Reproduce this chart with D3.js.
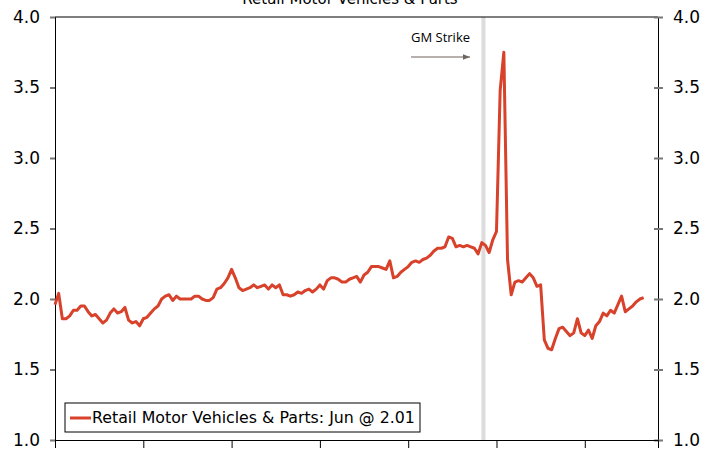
<!DOCTYPE html>
<html>
<head>
<meta charset="utf-8">
<script src="https://cdn.jsdelivr.net/npm/d3@7"></script>
<style>
  body { margin: 0; background: #fff; }
  text { font-family: "DejaVu Sans", Verdana, sans-serif; }
</style>
</head>
<body>
<div id="chart"></div>
<script>
"use strict";

// monthly ratio, first point at left axis
var ratioValues = [
  1.96, 2.04, 1.86, 1.86, 1.88, 1.92, 1.92, 1.95, 1.95, 1.91,
  1.88, 1.89, 1.86, 1.83, 1.85, 1.90, 1.93, 1.90, 1.91, 1.94,
  1.85, 1.83, 1.84, 1.81, 1.86, 1.87, 1.90, 1.93, 1.95, 2.00,
  2.02, 2.03, 1.99, 2.02, 2.00, 2.00, 2.00, 2.00, 2.02, 2.02,
  2.00, 1.99, 1.99, 2.01, 2.07, 2.08, 2.11, 2.15, 2.21, 2.15,
  2.08, 2.06, 2.07, 2.08, 2.10, 2.08, 2.09, 2.10, 2.07, 2.10,
  2.08, 2.10, 2.03, 2.03, 2.02, 2.03, 2.05, 2.04, 2.06, 2.07,
  2.05, 2.07, 2.10, 2.07, 2.13, 2.15, 2.15, 2.14, 2.12, 2.12,
  2.14, 2.15, 2.16, 2.12, 2.17, 2.19, 2.23, 2.23, 2.23, 2.22,
  2.21, 2.27, 2.15, 2.16, 2.19, 2.21, 2.23, 2.26, 2.27, 2.26,
  2.28, 2.29, 2.31, 2.34, 2.36, 2.36, 2.37, 2.44, 2.43, 2.37,
  2.38, 2.37, 2.38, 2.37, 2.36, 2.32, 2.40, 2.38, 2.33, 2.42,
  2.48, 3.48, 3.75, 2.28, 2.03, 2.12, 2.13, 2.12, 2.15, 2.18,
  2.15, 2.09, 2.10, 1.71, 1.65, 1.64, 1.72, 1.79, 1.80, 1.77,
  1.74, 1.76, 1.86, 1.76, 1.74, 1.78, 1.72, 1.81, 1.84, 1.90,
  1.88, 1.92, 1.90, 1.96, 2.02, 1.91, 1.93, 1.95, 1.98, 2.00,
  2.01
];
var xTickIdx = [0, 24, 48, 72, 96, 120, 144];
var yTicks = [1.0, 1.5, 2.0, 2.5, 3.0, 3.5, 4.0];
var strikeIdx = [115.9, 117.0];

var chartTitle = "Retail Motor Vehicles & Parts";
var legendLabel = "Retail Motor Vehicles & Parts: Jun @ 2.01";
var strikeLabel = "GM Strike";

var margin = {top: 17, left: 55, right: 55, bottom: 13};
var width = 713 - margin.left - margin.right;
var height = 453 - margin.top - margin.bottom;

var svg = d3.select("#chart")
    .append("svg")
    .attr("width", 713)
    .attr("height", 453)
    .append("g")
    .attr("transform", "translate(" + margin.left + "," + margin.top + ")");

var x = d3.scaleLinear().domain([0, 163.9]).range([0, width]);
var y = d3.scaleLinear().domain([1, 4]).range([height, 0]);

// GM strike band
svg.append("rect")
    .attr("x", x(strikeIdx[0]))
    .attr("y", 0)
    .attr("width", x(strikeIdx[1]) - x(strikeIdx[0]))
    .attr("height", height)
    .attr("fill", "#dcdcdc");

// frame top
svg.append("line")
    .attr("x1", 0).attr("x2", width)
    .attr("y1", 0).attr("y2", 0)
    .attr("stroke", "#000");

// axes
var left = svg.append("g")
    .call(d3.axisLeft(y).tickValues(yTicks).tickFormat(d3.format(".1f")).tickSize(5).tickPadding(10));
var right = svg.append("g")
    .attr("transform", "translate(" + width + ",0)")
    .call(d3.axisRight(y).tickValues(yTicks).tickFormat(d3.format(".1f")).tickSize(5).tickPadding(10));
right.selectAll(".tick line").attr("x1", -4);
var bottom = svg.append("g")
    .attr("transform", "translate(0," + height + ")")
    .call(d3.axisBottom(x).tickValues(xTickIdx).tickFormat("").tickSize(8));

[left, right, bottom].forEach(function (g) {
    g.select(".domain").attr("stroke", "#000");
    g.selectAll("text").style("font-size", "17px").attr("fill", "#000");
});
left.selectAll(".tick line").attr("stroke", "#777").attr("stroke-width", 2);
right.selectAll(".tick line").attr("stroke", "#777").attr("stroke-width", 2);
bottom.selectAll(".tick line").attr("stroke", "#000");

// series
var line = d3.line()
    .x(function (d, i) { return x(i); })
    .y(function (d) { return y(d); });
svg.append("path")
    .datum(ratioValues)
    .attr("fill", "none")
    .attr("stroke", "#d8412a")
    .attr("stroke-width", 3)
    .attr("stroke-linejoin", "round")
    .attr("d", line);

// title (partly cut off at top)
svg.append("text")
    .attr("x", 295)
    .attr("y", -13)
    .attr("text-anchor", "middle")
    .style("font-size", "15px")
    .text(chartTitle);

// annotation
svg.append("defs").append("marker")
    .attr("id", "arr")
    .attr("viewBox", "0 0 10 10")
    .attr("refX", 10).attr("refY", 5)
    .attr("markerWidth", 6).attr("markerHeight", 6)
    .attr("orient", "auto")
    .append("path")
    .attr("d", "M0,1 L10,5 L0,9 Z")
    .attr("fill", "#6f655c");
svg.append("text")
    .attr("x", 356)
    .attr("y", 25)
    .style("font-family", "'Open Sans', sans-serif")
    .style("font-size", "13px")
    .text(strikeLabel);
svg.append("line")
    .attr("x1", 356).attr("x2", 415)
    .attr("y1", 40).attr("y2", 40)
    .attr("stroke", "#6f655c")
    .attr("stroke-width", 1.2)
    .attr("marker-end", "url(#arr)");

// legend
var lg = svg.append("g").attr("transform", "translate(10,386)");
lg.append("rect")
    .attr("width", 355).attr("height", 29)
    .attr("fill", "#fff")
    .attr("stroke", "#000");
lg.append("line")
    .attr("x1", 5).attr("x2", 26)
    .attr("y1", 15).attr("y2", 15)
    .attr("stroke", "#d8412a")
    .attr("stroke-width", 3);
lg.append("text")
    .attr("x", 27)
    .attr("y", 20)
    .style("font-size", "15.8px")
    .text(legendLabel);
</script>
</body>
</html>
